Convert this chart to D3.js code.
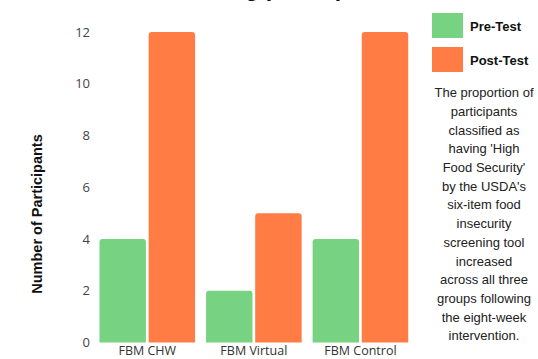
<!DOCTYPE html>
<html>
<head>
<meta charset="utf-8">
<script src="https://cdn.jsdelivr.net/npm/d3@7"></script>
<style>
  html, body { margin: 0; padding: 0; background: #fff; }
  svg { display: block; }
</style>
</head>
<body>
<svg id="chart" width="538" height="359"></svg>
<script>
// Participants classified as having 'High Food Security', before and after the program
const groups = ["FBM CHW", "FBM Virtual", "FBM Control"];
const seriesNames = ["Pre-Test", "Post-Test"];
const preTest = [4, 2, 4];
const postTest = [12, 5, 12];
const yTicks = [0, 2, 4, 6, 8, 10, 12];
const colors = ["#77D382", "#FF7C45"];
const titleLines = ["Proportion with High Food Security", "among participants"];
const note = [
  "The proportion of", "participants", "classified as", "having 'High",
  "Food Security'", "by the USDA's", "six-item food", "insecurity",
  "screening tool", "increased", "across all three", "groups following",
  "the eight-week", "intervention."
];

const svg = d3.select("#chart");
const values = [preTest, postTest];
const rows = groups.map((g, i) => ({ group: g, vals: seriesNames.map((s, j) => ({ key: s, value: values[j][i], color: colors[j] })) }));

const x0 = d3.scaleBand().domain(groups).range([94, 413.7]).paddingInner(0.103).paddingOuter(0.0515);
const x1 = d3.scaleBand().domain(seriesNames).range([0, x0.bandwidth()]).paddingInner(0.055);
const y = d3.scaleLinear().domain([0, 12]).range([342.5, 32]);

// Title (its upper part sits above the canvas)
svg.append("text")
  .attr("x", 290).attr("y", -4)
  .attr("text-anchor", "middle")
  .style("font", "bold 23px 'Liberation Sans', Arial, sans-serif")
  .style("fill", "#111")
  .selectAll("tspan").data(titleLines).join("tspan")
  .attr("x", 290)
  .attr("dy", (d, i) => i === 0 ? "-1.15em" : "1.15em")
  .text(d => d);

// Y axis: labels only
const yAxis = svg.append("g")
  .attr("transform", "translate(90,0)")
  .call(d3.axisLeft(y).tickValues(yTicks).tickSize(0).tickPadding(0));
yAxis.select(".domain").remove();
yAxis.selectAll("text")
  .style("font", "13px 'Open Sans', sans-serif")
  .style("fill", "#444");

svg.append("text")
  .attr("transform", "translate(42,214) rotate(-90)")
  .attr("text-anchor", "middle")
  .style("font", "bold 14.5px 'Liberation Sans', Arial, sans-serif")
  .style("fill", "#111")
  .text("Number of Participants");

// Bars with rounded top corners
function topRounded(x, yTop, w, h, r) {
  r = Math.min(r, w / 2, h);
  return `M${x},${yTop + h}V${yTop + r}Q${x},${yTop} ${x + r},${yTop}H${x + w - r}Q${x + w},${yTop} ${x + w},${yTop + r}V${yTop + h}Z`;
}

const g = svg.append("g");
g.selectAll("g.grp").data(rows).join("g")
  .attr("class", "grp")
  .attr("transform", d => `translate(${x0(d.group)},0)`)
  .selectAll("path").data(d => d.vals).join("path")
  .attr("d", d => topRounded(x1(d.key), y(d.value), x1.bandwidth(), y(0) - y(d.value), 3))
  .attr("fill", d => d.color);

// Category labels
const xAxis = svg.append("g")
  .attr("transform", `translate(0,${y(0)})`)
  .call(d3.axisBottom(x0).tickSize(0).tickPadding(4));
xAxis.select(".domain").remove();
xAxis.selectAll("text")
  .style("font", "12.5px 'Open Sans', sans-serif")
  .style("fill", "#333");

// Legend
const legend = svg.append("g");
seriesNames.forEach((s, i) => {
  legend.append("rect")
    .attr("x", 432).attr("y", 13 + i * 34)
    .attr("width", 31).attr("height", 25)
    .attr("fill", colors[i]);
  legend.append("text")
    .attr("x", 470).attr("y", 26 + i * 34)
    .attr("dy", "0.35em")
    .style("font", "bold 13px 'Liberation Sans', Arial, sans-serif")
    .style("fill", "#111")
    .text(s);
});

// Note
svg.append("g").selectAll("text").data(note).join("text")
  .attr("x", 484)
  .attr("y", (d, i) => 92.7 + i * 18.7)
  .attr("dy", "0.35em")
  .attr("text-anchor", "middle")
  .style("font", "13px 'Liberation Sans', Arial, sans-serif")
  .style("fill", "#222")
  .text(d => d);
</script>
</body>
</html>
